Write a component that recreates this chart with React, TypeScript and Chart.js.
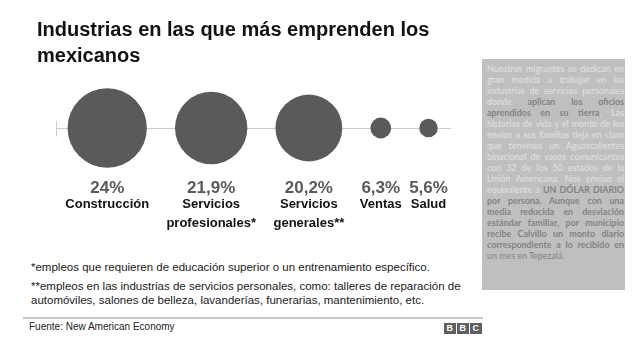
import React, { useEffect, useRef } from "react";
import { Chart, registerables } from "chart.js";

Chart.register(...registerables);

// ---- data ----
const categories: string[][] = [
  ["Construcción"],
  ["Servicios", "profesionales*"],
  ["Servicios", "generales**"],
  ["Ventas"],
  ["Salud"],
];
const values: number[] = [24, 21.9, 20.2, 6.3, 5.6];
const valueLabels: string[] = ["24%", "21,9%", "20,2%", "6,3%", "5,6%"];

const titleLines: string[] = ["Industrias en las que más emprenden los", "mexicanos"];
const footnotes: string[][] = [
  ["*empleos que requieren de educación superior o un entrenamiento específico."],
  [
    "**empleos en las industrias de servicios personales, como: talleres de reparación de",
    "automóviles, salones de belleza, lavanderías, funerarias, mantenimiento, etc.",
  ],
];
const sourceText = "Fuente: New American Economy";

type Seg = [string, number]; // 0 normal light, 1 bold dark, 2 regular dark
const sidebarLines: Seg[][] = [
  [["Nuestros migrantes se dedican en", 0]],
  [["gran medida a trabajar en las", 0]],
  [["industrias de servicios personales", 0]],
  [["donde ", 0], ["aplican los oficios", 1]],
  [["aprendidos en su tierra", 1], [". Las", 0]],
  [["historias de vida y el monto de los", 0]],
  [["envíos a sus familias deja en claro", 0]],
  [["que tenemos un Aguascalientes", 0]],
  [["binacional de vasos comunicantes", 0]],
  [["con 32 de los 50 estados de la", 0]],
  [["Unión Americana. Nos envían el", 0]],
  [["equivalente a ", 0], ["UN DÓLAR DIARIO", 1]],
  [["por persona. Aunque con una", 1]],
  [["media reducida en desviación", 1]],
  [["estándar familiar, por municipio", 1]],
  [["recibe Calvillo un monto diario", 1]],
  [["correspondiente a lo recibido en", 1]],
  [["un mes en Tepezalá.", 2]],
];

// spacing between bubbles, in value units (bubble radius = value)
const START_PAD = 7;
const GAP = 17;
const END_PAD = 8;

function bubbleCenters(vals: number[]) {
  const centers: number[] = [];
  let edge = START_PAD;
  vals.forEach((v) => {
    centers.push(edge + v);
    edge += 2 * v + GAP;
  });
  return { centers, total: edge - GAP + END_PAD };
}

const FONT = '"Liberation Sans", Arial, Helvetica, sans-serif';
const SIDE_FONT = 'Lato, "Liberation Sans", Arial, sans-serif';

export default function App() {
  const canvasRef = useRef<HTMLCanvasElement | null>(null);

  useEffect(() => {
    if (!canvasRef.current) return;
    const { centers, total } = bubbleCenters(values);

    const axisPlugin = {
      id: "axisLine",
      beforeDatasetsDraw(chart: any) {
        const { ctx, chartArea } = chart;
        const y = Math.round(chart.scales.y.getPixelForValue(0)) + 0.5;
        ctx.save();
        ctx.strokeStyle = "#c9ccd2";
        ctx.lineWidth = 1;
        ctx.beginPath();
        ctx.moveTo(chartArea.left, y);
        ctx.lineTo(chartArea.right, y);
        const tx = Math.round(chartArea.left) + 0.5;
        ctx.moveTo(tx, y - 7);
        ctx.lineTo(tx, y + 8);
        ctx.stroke();
        ctx.restore();
      },
    };

    const labelPlugin = {
      id: "bubbleLabels",
      afterDatasetsDraw(chart: any) {
        const { ctx } = chart;
        const xs = chart.scales.x;
        ctx.save();
        ctx.textAlign = "center";
        ctx.textBaseline = "alphabetic";
        centers.forEach((c, i) => {
          const x = xs.getPixelForValue(c);
          ctx.fillStyle = "#5a5a5a";
          ctx.font = `bold 17px ${FONT}`;
          ctx.fillText(valueLabels[i], x, 193);
          ctx.fillStyle = "#111111";
          ctx.font = `bold 13px ${FONT}`;
          categories[i].forEach((line, j) => {
            ctx.fillText(line, x, 208 + j * 18.5);
          });
        });
        ctx.restore();
      },
    };

    const chart = new Chart(canvasRef.current, {
      type: "scatter",
      data: {
        datasets: [
          {
            data: values.map((v, i) => ({ x: centers[i], y: 0 })),
            backgroundColor: "#5a5a5a",
            borderWidth: 0,
            pointBorderWidth: 0,
            pointRadius: (ctx: any) => {
              const xs = ctx.chart.scales.x;
              if (!xs || ctx.dataIndex === undefined) return 0;
              return xs.getPixelForValue(values[ctx.dataIndex]) - xs.getPixelForValue(0);
            },
            pointHoverRadius: (ctx: any) => {
              const xs = ctx.chart.scales.x;
              if (!xs || ctx.dataIndex === undefined) return 0;
              return xs.getPixelForValue(values[ctx.dataIndex]) - xs.getPixelForValue(0);
            },
          } as any,
        ],
      },
      options: {
        responsive: false,
        animation: false,
        events: [],
        clip: false as any,
        layout: { padding: { left: 56, right: 29, top: 0, bottom: 0 } },
        plugins: { legend: { display: false }, tooltip: { enabled: false } },
        scales: {
          x: { type: "linear", display: false, min: 0, max: total },
          y: { type: "linear", display: false, min: -1, max: 1 },
        },
      },
      plugins: [axisPlugin, labelPlugin],
    });
    return () => chart.destroy();
  }, []);

  const segColor = (k: number) => (k === 0 ? "#e2e2e2" : "#838383");

  return (
    <div
      style={{
        position: "absolute",
        left: 0,
        top: 0,
        width: 640,
        height: 360,
        overflow: "hidden",
        background: "#ffffff",
        fontFamily: FONT,
      }}
    >
      <canvas
        ref={canvasRef}
        width={480}
        height={256}
        style={{ position: "absolute", left: 0, top: 0, width: 480, height: 256 }}
      />
      <div
        style={{
          position: "absolute",
          left: 37,
          top: 16,
          fontSize: 20,
          lineHeight: "26px",
          fontWeight: "bold",
          color: "#111",
          whiteSpace: "nowrap",
        }}
      >
        {titleLines.map((t, i) => (
          <div key={i}>{t}</div>
        ))}
      </div>

      <div
        style={{
          position: "absolute",
          left: 31,
          top: 260,
          fontSize: 11.5,
          lineHeight: "14px",
          color: "#1a1a1a",
          whiteSpace: "nowrap",
        }}
      >
        {footnotes.map((p, i) => (
          <div key={i} style={{ marginBottom: 5 }}>
            {p.map((l, j) => (
              <div key={j}>{l}</div>
            ))}
          </div>
        ))}
      </div>

      <div
        style={{
          position: "absolute",
          left: 23,
          top: 317,
          width: 460,
          height: 2,
          background: "#c8c8c8",
        }}
      />
      <div
        style={{
          position: "absolute",
          left: 29,
          top: 321,
          fontSize: 10,
          lineHeight: "12px",
          color: "#222",
          whiteSpace: "nowrap",
        }}
      >
        {sourceText}
      </div>
      <div style={{ position: "absolute", left: 444, top: 323, display: "flex", gap: 1.5 }}>
        {["B", "B", "C"].map((c, i) => (
          <div
            key={i}
            style={{
              width: 11.5,
              height: 11,
              background: "#5e5e5e",
              color: "#fff",
              fontSize: 9,
              lineHeight: "11px",
              fontWeight: "bold",
              textAlign: "center",
            }}
          >
            {c}
          </div>
        ))}
      </div>

      <div
        style={{
          position: "absolute",
          left: 482,
          top: 59,
          width: 143,
          height: 231,
          background: "#bfbfbf",
          boxSizing: "border-box",
          paddingLeft: 5,
          paddingRight: 1,
          paddingTop: 4,
          fontSize: 8.9,
          lineHeight: "11px",
          fontFamily: SIDE_FONT,
        }}
      >
        {sidebarLines.map((segs, i) => {
          const last = i === sidebarLines.length - 1;
          return (
            <div
              key={i}
              style={{
                textAlign: last ? "left" : "justify",
                textAlignLast: last ? "left" : "justify",
                whiteSpace: "normal",
                height: 11,
                overflow: "hidden",
              }}
            >
              {segs.map(([t, k], j) => (
                <span key={j} style={{ color: segColor(k), fontWeight: k === 1 ? "bold" : "normal" }}>
                  {t}
                </span>
              ))}
            </div>
          );
        })}
      </div>
    </div>
  );
}
